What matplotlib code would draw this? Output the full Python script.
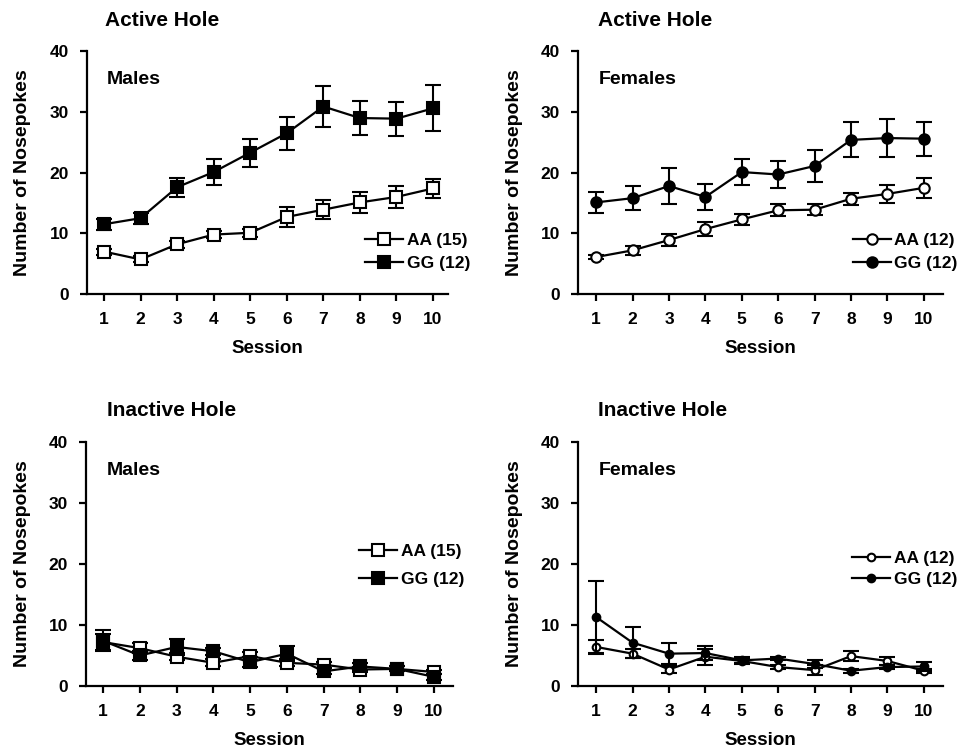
import matplotlib
matplotlib.use("Agg")
import matplotlib.pyplot as plt
import numpy as np

plt.rcParams['font.family'] = ['Liberation Sans', 'DejaVu Sans']
plt.rcParams['font.weight'] = 'bold'

sessions = list(range(1, 11))

# Active hole, males
m_act_aa = [7.0, 5.7, 8.2, 9.8, 10.1, 12.7, 13.9, 15.1, 16.0, 17.4]
m_act_aa_err = [0.5, 0.5, 0.6, 0.6, 0.7, 1.7, 1.6, 1.7, 1.8, 1.5]
m_act_gg = [11.5, 12.5, 17.6, 20.1, 23.3, 26.5, 30.9, 29.0, 28.9, 30.6]
m_act_gg_err = [0.9, 0.9, 1.6, 2.2, 2.3, 2.7, 3.4, 2.8, 2.8, 3.8]

# Active hole, females
f_act_aa = [6.1, 7.2, 8.9, 10.7, 12.3, 13.8, 13.9, 15.7, 16.5, 17.5]
f_act_aa_err = [0.3, 0.8, 1.0, 1.2, 0.9, 1.0, 0.9, 1.0, 1.5, 1.6]
f_act_gg = [15.1, 15.8, 17.8, 16.0, 20.1, 19.7, 21.1, 25.4, 25.7, 25.6]
f_act_gg_err = [1.7, 2.0, 2.9, 2.2, 2.2, 2.3, 2.6, 2.9, 3.1, 2.8]

# Inactive hole, males
m_ina_aa = [7.2, 6.2, 4.8, 3.8, 4.9, 3.8, 3.5, 2.7, 2.8, 2.3]
m_ina_aa_err = [1.3, 0.8, 0.6, 0.6, 0.6, 0.6, 0.5, 0.4, 0.4, 0.4]
m_ina_gg = [7.4, 5.0, 6.4, 5.7, 3.9, 5.3, 2.4, 3.2, 2.8, 1.5]
m_ina_gg_err = [1.7, 0.8, 1.3, 0.6, 0.8, 1.2, 0.5, 0.5, 0.4, 0.5]

# Inactive hole, females
f_ina_aa = [6.4, 5.3, 2.7, 4.8, 4.1, 3.1, 2.6, 4.9, 4.1, 2.5]
f_ina_aa_err = [1.2, 0.7, 0.6, 1.3, 0.5, 0.3, 0.8, 0.8, 0.6, 0.3]
f_ina_gg = [11.3, 7.1, 5.3, 5.4, 4.2, 4.5, 3.6, 2.5, 3.1, 3.2]
f_ina_gg_err = [5.9, 2.5, 1.7, 1.2, 0.5, 0.3, 0.6, 0.3, 0.3, 0.7]

yticks = [0, 10, 20, 30, 40]

fig = plt.figure(figsize=(9.62, 7.54), dpi=100)

panels = [
    dict(rect=[0.0904, 0.610, 0.3753, 0.322], xlim=(0.535, 10.41), title="Active Hole",
         sex="Males", marker='s', ms=9, aa=(m_act_aa, m_act_aa_err), gg=(m_act_gg, m_act_gg_err),
         labels=("AA (15)", "GG (12)"), leg=(0.77, 0.252), lsp=0.45, tx=105),
    dict(rect=[0.601, 0.610, 0.379, 0.322], xlim=(0.506, 10.52), title="Active Hole",
         sex="Females", marker='o', ms=7.5, aa=(f_act_aa, f_act_aa_err), gg=(f_act_gg, f_act_gg_err),
         labels=("AA (12)", "GG (12)"), leg=(0.753, 0.252), lsp=0.45, tx=598),
    dict(rect=[0.0894, 0.0902, 0.3815, 0.3236], xlim=(0.535, 10.52), title="Inactive Hole",
         sex="Males", marker='s', ms=8.0, aa=(m_ina_aa, m_ina_aa_err), gg=(m_ina_gg, m_ina_gg_err),
         labels=("AA (15)", "GG (12)"), leg=(0.744, 0.582), lsp=0.75, tx=107),
    dict(rect=[0.601, 0.0902, 0.379, 0.3236], xlim=(0.506, 10.52), title="Inactive Hole",
         sex="Females", marker='o', ms=5.5, aa=(f_ina_aa, f_ina_aa_err), gg=(f_ina_gg, f_ina_gg_err),
         labels=("AA (12)", "GG (12)"), leg=(0.751, 0.555), lsp=0.35, tx=598),
]

for p in panels:
    ax = fig.add_axes(p['rect'])
    for (vals, errs), face, lab, z in [(p['aa'], 'white', p['labels'][0], 3),
                                       (p['gg'], 'black', p['labels'][1], 4)]:
        ax.errorbar(sessions, vals, yerr=errs, fmt='none', ecolor='black',
                    elinewidth=1.5, capsize=6, capthick=1.5, zorder=z)
        ax.plot(sessions, vals, color='black', lw=1.6, marker=p['marker'], ms=p['ms'],
                mfc=face, mec='black', mew=1.5, label=lab, zorder=z + 0.5)
    ax.set_xlim(*p['xlim'])
    ax.set_ylim(0, 40)
    ax.set_xticks(sessions)
    ax.set_yticks(yticks)
    for s in ['top', 'right']:
        ax.spines[s].set_visible(False)
    for s in ['left', 'bottom']:
        ax.spines[s].set_linewidth(1.6)
    ax.tick_params(axis='both', direction='out', length=5, width=1.6, labelsize=12.5, pad=8)
    for lbl in ax.get_xticklabels() + ax.get_yticklabels():
        lbl.set_fontweight('bold')
    ax.set_xlabel("Session", fontsize=13.5, fontweight='bold', labelpad=9)
    ax.set_ylabel("Number of Nosepokes", fontsize=14, fontweight='bold', labelpad=13)
    ax.text(0.056, 0.885, p['sex'], transform=ax.transAxes, fontsize=14,
            fontweight='bold', ha='left', va='center')
    # panel title
    bb = p['rect']
    top_px = (1 - bb[1] - bb[3]) * 754
    fig.text(p['tx'] / 962, 1 - (top_px - 31) / 754, p['title'], fontsize=15,
             fontweight='bold', ha='left', va='center')
    ax.legend(loc='upper left', bbox_to_anchor=p['leg'], frameon=False, fontsize=12.5,
              handlelength=2.2, handletextpad=0.2, borderpad=0, borderaxespad=0,
              labelspacing=p['lsp'])

fig.savefig("out.png", dpi=100)
